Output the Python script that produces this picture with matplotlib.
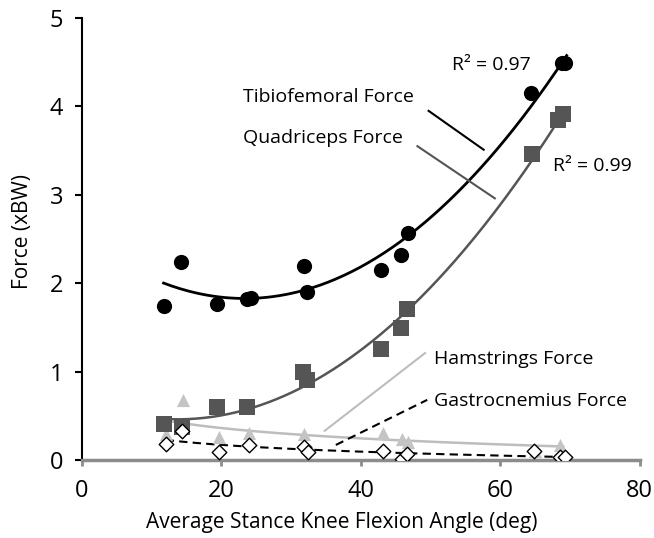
import numpy as np
import matplotlib
matplotlib.use("Agg")
import matplotlib.pyplot as plt

plt.rcParams['font.family'] = ['Open Sans', 'DejaVu Sans']

# Data (knee flexion angle in deg, force in xBW)
tf_x = [11.7, 14.2, 19.3, 23.6, 24.2, 31.8, 32.2, 42.9, 45.7, 46.7, 64.4, 68.8, 69.3]
tf_y = [1.74, 2.24, 1.76, 1.82, 1.83, 2.20, 1.90, 2.15, 2.32, 2.57, 4.15, 4.49, 4.49]

quad_x = [11.7, 14.4, 19.3, 23.6, 31.7, 32.3, 42.9, 45.7, 46.6, 64.6, 68.2, 69.0]
quad_y = [0.41, 0.37, 0.60, 0.60, 1.00, 0.90, 1.26, 1.49, 1.71, 3.46, 3.85, 3.91]

ham_x = [12.0, 14.5, 19.6, 23.9, 31.8, 43.2, 45.9, 46.7, 64.9, 68.6]
ham_y = [0.29, 0.68, 0.255, 0.30, 0.29, 0.30, 0.24, 0.20, 0.105, 0.17]

gas_x = [12.0, 14.4, 19.6, 23.9, 31.8, 32.4, 43.2, 45.9, 46.6, 64.8, 68.6, 69.3]
gas_y = [0.18, 0.33, 0.086, 0.17, 0.15, 0.086, 0.10, 0.01, 0.07, 0.105, 0.03, 0.03]

labels = ["Tibiofemoral Force", "Quadriceps Force", "Hamstrings Force", "Gastrocnemius Force"]
r2_labels = ["R² = 0.97", "R² = 0.99"]
x_ticks = [0, 20, 40, 60, 80]
y_ticks = [0, 1, 2, 3, 4, 5]

fig = plt.figure(figsize=(6.54, 5.38), dpi=100)
ax = fig.add_axes([0.1254, 0.145, 0.853, 0.8215])

# trendlines
def poly2(x, y, lo, hi):
    c = np.polyfit(x, y, 2)
    xs = np.linspace(lo, hi, 200)
    return xs, np.polyval(c, xs)

def logfit(x, y, lo, hi):
    c = np.polyfit(np.log(np.asarray(x)), np.asarray(y), 1)
    xs = np.linspace(lo, hi, 200)
    return xs, c[1] + c[0] * np.log(xs)

xs, ys = poly2(tf_x, tf_y, 11.7, 69.5)
ax.plot(xs, ys, color='black', lw=2.0, zorder=2)
xs, ys = poly2(quad_x, quad_y, 11.7, 69.3)
ax.plot(xs, ys, color='#555555', lw=1.8, zorder=2)
xs, ys = logfit(ham_x, ham_y, 12, 69)
ax.plot(xs, ys, color='#bdbdbd', lw=1.8, zorder=2)
xs, ys = logfit(gas_x, gas_y, 12, 69.3)
ax.plot(xs, ys, color='black', lw=1.5, ls=(0, (4, 2.5)), zorder=2)

# markers
ax.scatter(ham_x, ham_y, marker='^', s=90, color='#c4c4c4', zorder=3, linewidths=0)
ax.scatter(gas_x, gas_y, marker='D', s=55, facecolor='white', edgecolor='black', linewidths=1.0, zorder=4)
ax.scatter(quad_x, quad_y, marker='s', s=120, color='#555555', zorder=3, linewidths=0)
ax.scatter(tf_x, tf_y, marker='o', s=120, color='black', zorder=5, linewidths=0)

# annotations
fs = 14
ax.text(23.1, 4.11, labels[0], fontsize=fs, va='center', ha='left')
ax.text(23.1, 3.64, labels[1], fontsize=fs, va='center', ha='left')
ax.plot([49.7, 57.6], [3.95, 3.51], color='black', lw=1.5)
ax.plot([48.1, 59.2], [3.55, 2.96], color='#555555', lw=1.5)
ax.text(50.5, 1.14, labels[2], fontsize=fs, va='center', ha='left')
ax.text(50.5, 0.67, labels[3], fontsize=fs, va='center', ha='left')
ax.plot([34.8, 49.2], [0.33, 1.21], color='#bdbdbd', lw=1.5)
ax.plot([36.4, 49.5], [0.17, 0.68], color='black', lw=1.5, ls=(0, (4, 2.5)))
ax.text(53.0, 4.47, r2_labels[0], fontsize=fs, va='center', ha='left')
ax.text(67.6, 3.33, r2_labels[1], fontsize=fs, va='center', ha='left')

ax.set_xlim(0, 80)
ax.set_ylim(0, 5)
ax.set_xticks(x_ticks)
ax.set_yticks(y_ticks)
ax.spines['top'].set_visible(False)
ax.spines['right'].set_visible(False)
ax.spines['left'].set_color('black')
ax.spines['left'].set_linewidth(1.5)
ax.spines['bottom'].set_color('#8c8c8c')
ax.spines['bottom'].set_linewidth(2.5)
ax.tick_params(axis='y', direction='out', length=5, width=1.5, color='black', labelsize=17, pad=8.5)
ax.tick_params(axis='x', direction='out', length=4, width=2, color='#8c8c8c', labelsize=17, pad=10)
ax.set_xlabel("Average Stance Knee Flexion Angle (deg)", fontsize=15)
ax.set_ylabel("Force (xBW)", fontsize=15)
ax.xaxis.set_label_coords(0.466, -0.117)
ax.yaxis.set_label_coords(-0.088, 0.516)

fig.savefig("out.png", dpi=100)
